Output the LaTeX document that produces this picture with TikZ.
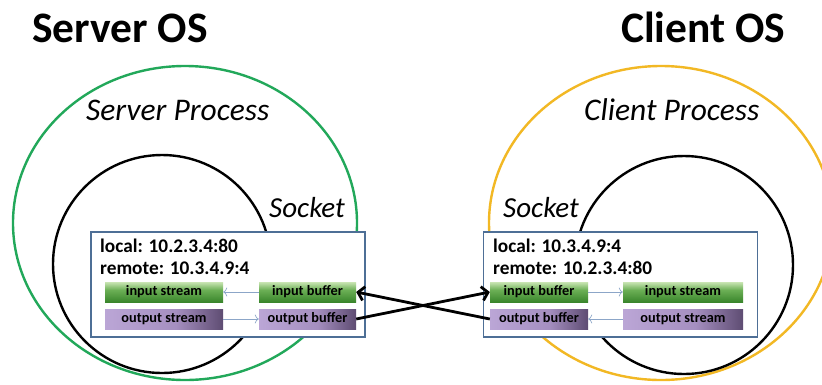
\documentclass[tikz,border=0pt]{standalone}
\usepackage{fontspec}
\setmainfont{Carlito}
\usetikzlibrary{arrows.meta,shapes.geometric}
\definecolor{osgreen}{HTML}{22A85A}
\definecolor{osyellow}{HTML}{F2B824}
\definecolor{boxblue}{HTML}{4E6F96}
\definecolor{thinblue}{HTML}{8CA6C8}
\definecolor{gl}{HTML}{C9E5B3}
\definecolor{gm}{HTML}{6BAF55}
\definecolor{gd}{HTML}{3A862C}
\definecolor{pl}{HTML}{BBA6D6}
\definecolor{pm}{HTML}{A58FC0}
\definecolor{pd}{HTML}{5E4C72}
\pgfdeclareverticalshading{greenbar}{100bp}{color(0bp)=(gd); color(25bp)=(gd); color(55bp)=(gm); color(75bp)=(gl); color(100bp)=(gl)}
\pgfdeclarehorizontalshading{purplebar}{100bp}{color(0bp)=(pl); color(25bp)=(pl); color(55bp)=(pm); color(75bp)=(pd); color(100bp)=(pd)}
\begin{document}
\begin{tikzpicture}[x=1pt,y=-1pt,
  osring/.style={ellipse,draw,line width=2.4pt,minimum width=344pt,minimum height=314pt,inner sep=0pt},
  sockring/.style={circle,draw=black,line width=2.4pt,minimum size=218pt,inner sep=0pt},
  sockbox/.style={draw=boxblue,line width=1.8pt,fill=white,minimum width=274pt,minimum height=105pt,inner sep=0pt},
  title/.style={anchor=base west,inner sep=0pt,font=\fontsize{43.5}{43.5}\selectfont\bfseries},
  proc/.style={anchor=base west,inner sep=0pt,font=\fontsize{31.5}{31.5}\selectfont\itshape},
  socklabel/.style={anchor=base west,inner sep=0pt,font=\fontsize{29}{29}\selectfont\itshape},
  addr/.style={anchor=base west,inner sep=0pt,font=\fontsize{19.3}{19.3}\selectfont\bfseries},
  bar/.style={minimum height=20pt,inner sep=0pt,font=\fontsize{14.3}{14.3}\selectfont\bfseries},
  inbar/.style={bar,shading=greenbar},
  outbar/.style={bar,shading=purplebar},
  thinarrow/.style={draw=thinblue,line width=0.7pt,-{To[length=4pt,width=9pt]}},
  wire/.style={draw=black,line width=2.8pt,-{Straight Barb[length=6pt,width=14pt]}}
]
\useasboundingbox (0,0) rectangle (822,384);
\clip (0,0) rectangle (822,384);
\fill[white] (0,0) rectangle (822,384);

% titles
\node[title] (stitle) at (32,42) {Server OS};
\node[title] (ctitle) at (621,42) {Client OS};

% process rings
\node[osring,draw=osgreen] (sring) at (185,223) {};
\node[osring,draw=osyellow] (cring) at (661,223) {};
\node[proc] (sproc) at (86,120) {Server Process};
\node[proc] (cproc) at (584,120) {Client Process};

% socket rings
\node[sockring] (ssock) at (162,264) {};
\node[sockring] (csock) at (684,265) {};

% socket boxes
\node[sockbox] (sbox) at (228,284.5) {};
\node[sockbox] (cbox) at (620.5,284.5) {};

\node[socklabel] (slabel) at (269,217) {Socket};
\node[socklabel] (clabel) at (503,217) {Socket};

% addresses
\node[addr] (slocal) at (100,252) {local: 10.2.3.4:80};
\node[addr] (sremote) at (100,274) {remote: 10.3.4.9:4};
\node[addr] (clocal) at (493,252) {local: 10.3.4.9:4};
\node[addr] (cremote) at (493,274) {remote: 10.2.3.4:80};

% server bars
\node[inbar,minimum width=118pt] (sis) at (164,292) {input stream};
\node[inbar,minimum width=97pt] (sib) at (307.5,292) {input buffer};
\node[outbar,minimum width=118pt] (sos) at (164,319) {output stream};
\node[outbar,minimum width=97pt] (sob) at (307.5,319) {output buffer};

% client bars
\node[inbar,minimum width=98pt] (cib) at (539,292) {input buffer};
\node[inbar,minimum width=120pt] (cis) at (683,292) {input stream};
\node[outbar,minimum width=98pt] (cob) at (539,319) {output buffer};
\node[outbar,minimum width=120pt] (cos) at (683,319) {output stream};

% internal flows
\draw[thinarrow] (sib.west) -- (sis.east);
\draw[thinarrow] (sos.east) -- (sob.west);
\draw[thinarrow] (cib.east) -- (cis.west);
\draw[thinarrow] (cos.west) -- (cob.east);

% network wires
\draw[wire] (sob.east) -- (cib.west);
\draw[wire] (cob.west) -- (sib.east);
\end{tikzpicture}
\end{document}
